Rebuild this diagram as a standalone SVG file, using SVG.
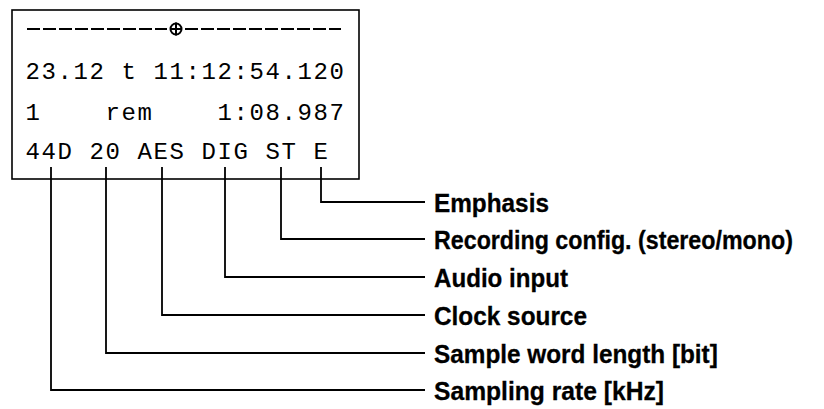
<svg xmlns="http://www.w3.org/2000/svg" width="824" height="409" viewBox="0 0 824 409">
  <style>
    .frame { fill: #fff; stroke: #000; stroke-width: 1.6; }
    .lcd { font-family: "Liberation Mono", "DejaVu Sans Mono", monospace; font-size: 24px; letter-spacing: 1.6px; fill: #000; }
    .dash { stroke: #000; stroke-width: 2; stroke-dasharray: 13 3; fill: none; }
    .conn { stroke: #000; stroke-width: 1.8; fill: none; }
    .label { font-family: "Liberation Sans", Arial, sans-serif; font-size: 26px; font-weight: bold; fill: #000; stroke: #000; stroke-width: 0.3; }
  </style>
  <rect width="824" height="409" fill="#fff"/>

  <g id="display">
    <rect class="frame" x="12" y="10" width="347" height="169"/>
    <line class="dash" x1="27" y1="29" x2="167" y2="29"/>
    <g id="center-mark" stroke="#000" stroke-width="2" fill="none">
      <circle cx="176" cy="29" r="5.5"/>
      <line x1="170" y1="29" x2="182" y2="29"/>
      <line x1="176" y1="22.5" x2="176" y2="35.5"/>
    </g>
    <line class="dash" x1="185" y1="29" x2="341" y2="29"/>
    <text class="lcd" x="25.5" y="79">23.12 t 11:12:54.120</text>
    <text class="lcd" y="119.5"><tspan x="25.5">1</tspan><tspan x="105.5">rem</tspan><tspan x="217.5">1:08.987</tspan></text>
    <text class="lcd" x="25.5" y="159">44D 20 AES DIG ST E</text>
  </g>

  <g id="connectors">
    <path class="conn" d="M321 167 V202 H425"/>
    <path class="conn" d="M281 167 V239 H425"/>
    <path class="conn" d="M225 167 V277 H425"/>
    <path class="conn" d="M162 167 V315 H425"/>
    <path class="conn" d="M106 167 V353 H425"/>
    <path class="conn" d="M51 167 V390 H425"/>
  </g>

  <g id="label-emphasis"><text class="label" transform="translate(434,212) scale(0.936,1)">Emphasis</text></g>
  <g id="label-recording"><text class="label" transform="translate(434,249) scale(0.894,1)">Recording config. (stereo/mono)</text></g>
  <g id="label-audio"><text class="label" transform="translate(434,287) scale(0.928,1)">Audio input</text></g>
  <g id="label-clock"><text class="label" transform="translate(434,325) scale(0.937,1)">Clock source</text></g>
  <g id="label-sample"><text class="label" transform="translate(434,363) scale(0.936,1)">Sample word length [bit]</text></g>
  <g id="label-sampling"><text class="label" transform="translate(434,400) scale(0.948,1)">Sampling rate [kHz]</text></g>
</svg>
